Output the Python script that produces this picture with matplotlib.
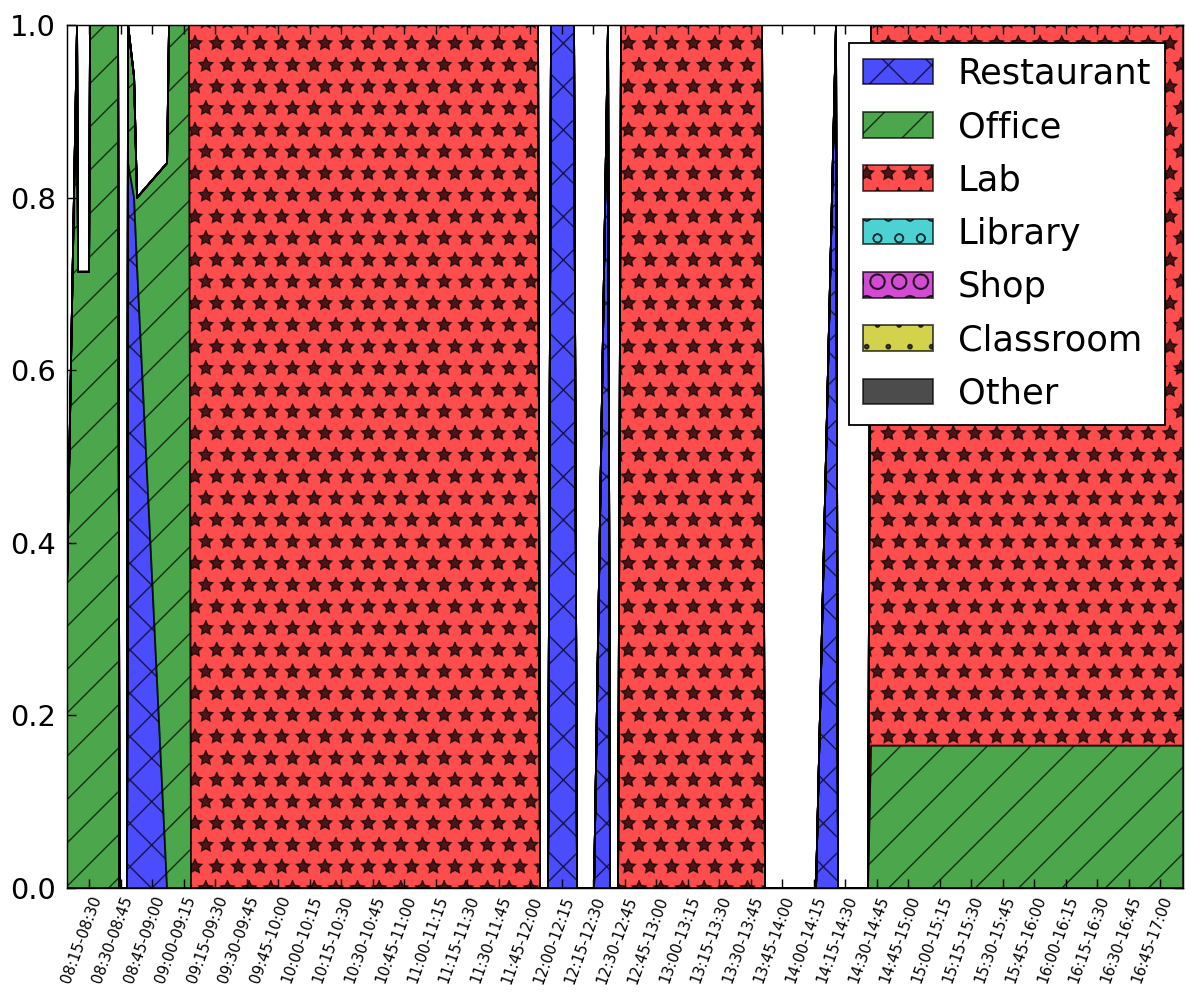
import matplotlib
matplotlib.use("Agg")
import matplotlib.pyplot as plt
from matplotlib.transforms import ScaledTranslation

# time slots (15 min each), positions measured in slot units from the 08:15 slot
slot_pos = [-0.70, -0.381, -0.349, 0.0, 0.032, 0.063, 0.921, 0.968, 1.206, 1.238,
            1.429, 1.524, 2.476, 2.540, 3.175, 3.238, 14.254, 14.317, 14.571, 14.667,
            15.397, 15.492, 16.032, 16.476, 16.540, 16.794, 16.889, 21.365, 21.460,
            23.079, 23.714, 23.778, 24.730, 24.825, 34.730]

# share of people per place type
restaurant = [0, 0, 0, 0, 0, 0, 0, 0, 0, 0.84,
              0.80, 0.72, 0, 0, 0, 0, 0, 0, 0, 1,
              1, 0, 0, 1, 0, 0, 0, 0, 0,
              0, 1, 0, 0, 0, 0]
office = [0.35, 1.0, 0.714, 0.714, 1.0, 1.0, 1.0, 0, 0, 0.16,
          0.14, 0.08, 0.84, 1.0, 1.0, 0, 0, 0, 0, 0,
          0, 0, 0, 0, 0, 0, 0, 0, 0,
          0, 0, 0, 0, 0.165, 0.165]
lab = [0, 0, 0, 0, 0, 0, 0, 0, 0, 0,
       0, 0, 0, 0, 0, 1, 1, 0, 0, 0,
       0, 0, 0, 0, 0, 0, 1, 1, 0,
       0, 0, 0, 0, 0.835, 0.835]
library = [0] * len(slot_pos)
shop = [0] * len(slot_pos)
classroom = [0] * len(slot_pos)
other = [0] * len(slot_pos)

labels = ['Restaurant', 'Office', 'Lab', 'Library', 'Shop', 'Classroom', 'Other']
colors = ['b', 'g', 'r', 'c', 'm', 'y', 'k']
hatches = ['x', '/', '*', 'o', 'O', '.', '']

slot_labels = ['08:15-08:30', '08:30-08:45', '08:45-09:00', '09:00-09:15', '09:15-09:30',
               '09:30-09:45', '09:45-10:00', '10:00-10:15', '10:15-10:30', '10:30-10:45',
               '10:45-11:00', '11:00-11:15', '11:15-11:30', '11:30-11:45', '11:45-12:00',
               '12:00-12:15', '12:15-12:30', '12:30-12:45', '12:45-13:00', '13:00-13:15',
               '13:15-13:30', '13:30-13:45', '13:45-14:00', '14:00-14:15', '14:15-14:30',
               '14:30-14:45', '14:45-15:00', '15:00-15:15', '15:15-15:30', '15:30-15:45',
               '15:45-16:00', '16:00-16:15', '16:15-16:30', '16:30-16:45', '16:45-17:00']

plt.rcParams['hatch.linewidth'] = 0.8
plt.rcParams['patch.linewidth'] = 1.0

fig = plt.figure(figsize=(1186 / 130, 1001 / 130), dpi=130)
ax = fig.add_axes([67 / 1186, 1 - 888 / 1001, (1183 - 67) / 1186, (888 - 25) / 1001])

polys = ax.stackplot(slot_pos, restaurant, office, lab, library, shop, classroom, other,
                     colors=colors, labels=labels, hatch=hatches, alpha=0.7,
                     edgecolor='k')

ax.set_xlim(slot_pos[0], slot_pos[-1])
ax.set_ylim(0, 1)
ax.set_xticks(range(len(slot_labels)))
ax.set_xticklabels(slot_labels, rotation=70, fontsize=8.3)
ax.set_yticks([0.0, 0.2, 0.4, 0.6, 0.8, 1.0])
ax.set_yticklabels(['0.0', '0.2', '0.4', '0.6', '0.8', '1.0'], fontsize=16)
ax.tick_params(direction='in', top=True, right=True, length=5)
ax.tick_params(axis='y', pad=6)

# nudge the rotated slot labels a little to the left
shift = ScaledTranslation(-8 / 130, 0, fig.dpi_scale_trans)
for lbl in ax.get_xticklabels():
    lbl.set_transform(lbl.get_transform() + shift)

leg = ax.legend(loc='upper right', fontsize=19.5, handlelength=2.0, handleheight=0.75,
                handletextpad=0.7, labelspacing=0.55, fancybox=False,
                framealpha=1, edgecolor='black')
leg.get_frame().set_linewidth(1.0)

fig.savefig('out.png', dpi=130)
